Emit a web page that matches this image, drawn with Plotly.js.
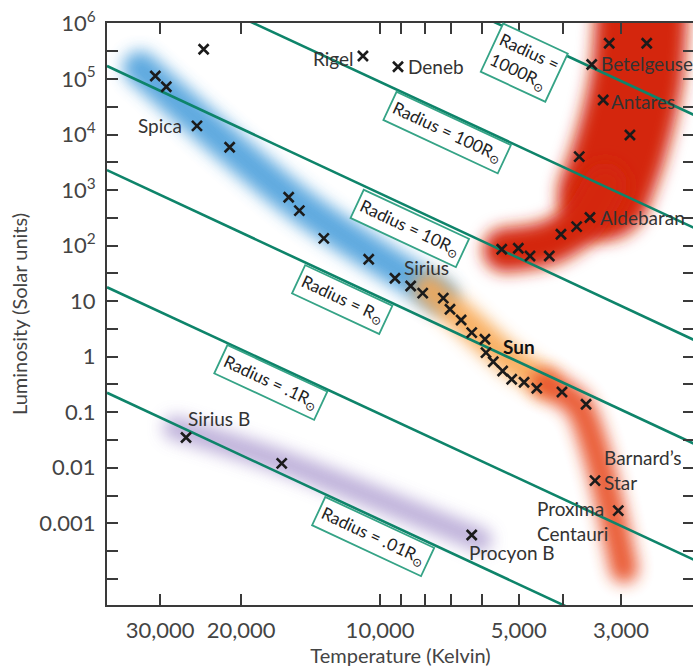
<!DOCTYPE html>
<html><head><meta charset="utf-8">
<script src="https://cdn.plot.ly/plotly-3.0.1.min.js"></script>
<style>html,body{margin:0;padding:0;overflow:hidden;background:#fff}#chart{width:696px;height:667px}</style>
</head><body><div id="chart"></div>
<script>
// ---------- data ----------
// stars: temperature (K) and luminosity (solar units)
const starT = [30720, 29080, 24130, 10890, 9140, 24950, 21190, 15780, 14960, 13240,
  10580, 9280, 8580, 8080, 7290, 7050, 6670, 6325, 5920, 5890,
  5680, 5420, 5180, 4870, 4570, 4030, 3573,
  5445, 5012, 4727, 4294, 4050, 3745, 3504, 3697, 2870, 3280, 3474, 3183, 2639,
  3417, 3042, 26350, 16340, 6325];
const starL = [113000, 72600, 343000, 259000, 166000, 14300, 5890, 741, 425, 135,
  56.7, 25.8, 18.7, 13.9, 11.3, 7.14, 4.58, 2.71, 2.06, 1.18,
  0.81, 0.553, 0.392, 0.346, 0.270, 0.231, 0.139,
  85.9, 89.5, 65.0, 65.0, 160, 219, 321, 3990, 9820, 41900, 182000, 440000, 440000,
  0.00585, 0.00169, 0.0351, 0.0120, 0.000616];
const starNames = ['', '', '', 'Rigel', 'Deneb', 'Spica', '', '', '', '',
  '', 'Sirius', '', '', '', '', '', '', '', 'Sun',
  '', '', '', '', '', '', '',
  '', '', '', '', '', '', 'Aldebaran', '', '', 'Antares', 'Betelgeuse', '', '',
  'Barnard’s<br>Star', 'Proxima<br>Centauri', 'Sirius B', '', 'Procyon B'];

// constant-radius lines: luminosity where each line meets the left and right plot edges
const radiusNames = ['Radius =<br>1000R<sub>⊙</sub>', 'Radius = 100R<sub>⊙</sub>', 'Radius = 10R<sub>⊙</sub>',
  'Radius = R<sub>⊙</sub>', 'Radius = .1R<sub>⊙</sub>', 'Radius = .01R<sub>⊙</sub>'];
const edgeT = [39100, 2083];
const radiusLeftL = [1.86e9, 1.7e7, 171000, 2290, 17.8, 0.224];
const radiusRightL = [22400, 209, 2.0, 0.027, 0.00022, 2.7e-6];
const radiusLabelT = [4870, 7155, 8610, 12090, 17240, 10360];
const radiusLabelL = [202000, 10700, 207, 10.5, 0.35, 0.00057];

// shaded regions (centre paths)
const blueT = [33170, 14910, 7410];
const blueL = [158000, 538, 12.4];
const orangeT = [7870, 6380, 5224, 4387];
const orangeL = [17.3, 3.72, 0.872, 0.336];
const dwarfRedT = [4387, 3720, 3434, 3171, 2956];
const dwarfRedL = [0.336, 0.135, 0.0257, 0.00214, 0.000150];
const giantT = [2700, 2780, 3022, 3268];
const giantL = [2.64e6, 95900, 5270, 850];
const giantTailT = [3250, 3646, 4322, 5357];
const giantTailL = [1234, 266, 111, 83.4];
const whiteDwarfT = [27850, 16320, 6068];
const whiteDwarfL = [0.0520, 0.0127, 0.000501];

// axis ticks
const xTickVals = [30000, 20000, 10000, 9000, 8000, 7000, 6000, 5000, 4000, 3000];
const xTickText = ['30,000', '20,000', '10,000', '', '', '', '', '5,000', '', '3,000'];
const yTickVals = [1e6, 316228, 1e5, 31623, 1e4, 3162, 1e3, 316.2, 100, 31.62, 10, 3.162, 1,
  0.3162, 0.1, 0.03162, 0.01, 0.003162, 0.001, 0.0003162, 0.0001];
const yTickText = ['10<sup>6</sup>', '', '10<sup>5</sup>', '', '10<sup>4</sup>', '', '10<sup>3</sup>', '',
  '10<sup>2</sup>', '', '10', '', '1', '', '0.1', '', '0.01', '', '0.001', '', ''];

// ---------- styling ----------
const FONT = 'Lato, "Open Sans", sans-serif';
const traces = [];
function band(T, L, color, width, a) {
  traces.push({x: T, y: L, type: 'scatter', mode: 'lines+markers',
    line: {color: color, width: width, shape: 'spline', smoothing: 0.8},
    marker: {color: color, size: width, line: {width: 0}},
    opacity: a, hoverinfo: 'skip', showlegend: false});
}
band(blueT, blueL, 'rgb(78,160,220)', 34, 0.9);
band(orangeT, orangeL, 'rgb(248,168,82)', 30, 0.9);
band(dwarfRedT, dwarfRedL, 'rgb(232,80,40)', 28, 0.92);
band(whiteDwarfT, whiteDwarfL, 'rgb(180,164,212)', 24, 0.85);
band(giantT, giantL, 'rgb(212,38,16)', 92, 1);
band(giantTailT, giantTailL, 'rgb(212,38,16)', 44, 1);
const nBands = traces.length;

for (let i = 0; i < radiusNames.length; i++) {
  traces.push({x: edgeT, y: [radiusLeftL[i], radiusRightL[i]], type: 'scatter', mode: 'lines',
    line: {color: '#0e846a', width: 2.6}, hoverinfo: 'skip', showlegend: false});
}
traces.push({x: starT, y: starL, type: 'scatter', mode: 'markers',
  marker: {symbol: 'x-thin', size: 10, color: '#1b1b1b', line: {width: 2.6, color: '#1b1b1b'}},
  hoverinfo: 'skip', showlegend: false});

const labelStyle = {
  'Rigel': {xanchor: 'right', xshift: -7, yshift: -2},
  'Deneb': {xanchor: 'left', xshift: 8, yshift: 0},
  'Spica': {xanchor: 'right', xshift: -13, yshift: 0},
  'Sirius': {xanchor: 'left', xshift: 7, yshift: 11},
  'Sun': {xanchor: 'left', xshift: 15, yshift: 6, bold: true},
  'Aldebaran': {xanchor: 'left', xshift: 8, yshift: 0},
  'Antares': {xanchor: 'left', xshift: 6, yshift: -2},
  'Betelgeuse': {xanchor: 'left', xshift: 7, yshift: 1},
  'Barnard’s<br>Star': {xanchor: 'left', xshift: 7, yshift: 11},
  'Proxima<br>Centauri': {xanchor: 'right', xshift: -8, yshift: -10},
  'Sirius B': {xanchor: 'left', xshift: 0, yshift: 19},
  'Procyon B': {xanchor: 'left', xshift: -5, yshift: -18}
};
const annotations = [];
starNames.forEach((nm, i) => {
  if (!nm) return;
  const s = labelStyle[nm];
  annotations.push({x: Math.log10(starT[i]), y: Math.log10(starL[i]), xref: 'x', yref: 'y',
    text: s.bold ? '<b>' + nm + '</b>' : nm, showarrow: false, align: 'left',
    xanchor: s.xanchor, yanchor: 'middle', xshift: s.xshift, yshift: s.yshift,
    font: {family: FONT, size: 19, color: s.bold ? '#111' : '#333'}});
});
radiusNames.forEach((nm, i) => {
  annotations.push({x: Math.log10(radiusLabelT[i]), y: Math.log10(radiusLabelL[i]), xref: 'x', yref: 'y',
    text: nm, showarrow: false, textangle: 25, align: 'left',
    bordercolor: '#35a386', borderwidth: 1.8, borderpad: 3, bgcolor: '#ffffff',
    font: {family: FONT, size: 17, color: '#222'}});
});

const axisCommon = {showgrid: false, zeroline: false, showline: true, linecolor: '#3a3a3a', linewidth: 2,
  mirror: 'ticks', ticks: 'inside', ticklen: 11, tickwidth: 2, tickcolor: '#3a3a3a',
  tickfont: {family: FONT, size: 22, color: '#444'}, ticklabelstandoff: 5};

const layout = {
  width: 696, height: 667,
  margin: {l: 107, r: 2, t: 23, b: 62},
  paper_bgcolor: '#fff', plot_bgcolor: '#fff',
  showlegend: false, hovermode: false,
  xaxis: Object.assign({}, axisCommon, {type: 'log', range: [4.5922, 3.3189],
    tickmode: 'array', tickvals: xTickVals, ticktext: xTickText,
    title: {text: 'Temperature (Kelvin)', font: {family: FONT, size: 20, color: '#444'}, standoff: 8}}),
  yaxis: Object.assign({}, axisCommon, {type: 'log', range: [-4.471, 6.008],
    tickmode: 'array', tickvals: yTickVals, ticktext: yTickText,
    title: {text: 'Luminosity (Solar units)', font: {family: FONT, size: 20, color: '#444'}, standoff: 6}}),
  annotations: annotations
};
Plotly.newPlot('chart', traces, layout, {displayModeBar: false, staticPlot: true}).then(gd => {
  // soften the edges of the shaded regions
  const NS = 'http://www.w3.org/2000/svg';
  const svg = gd.querySelector('svg.main-svg');
  let defs = svg.querySelector('defs');
  if (!defs) { defs = document.createElementNS(NS, 'defs'); svg.insertBefore(defs, svg.firstChild); }
  const f = document.createElementNS(NS, 'filter');
  f.setAttribute('id', 'softblur');
  f.setAttribute('x', '-0.6'); f.setAttribute('y', '-0.6');
  f.setAttribute('width', '2.2'); f.setAttribute('height', '2.2');
  const b = document.createElementNS(NS, 'feGaussianBlur');
  b.setAttribute('stdDeviation', '8');
  f.appendChild(b); defs.appendChild(f);
  const groups = gd.querySelectorAll('.scatterlayer .trace');
  for (let i = 0; i < nBands && i < groups.length; i++) groups[i].setAttribute('filter', 'url(#softblur)');
});
</script></body></html>
